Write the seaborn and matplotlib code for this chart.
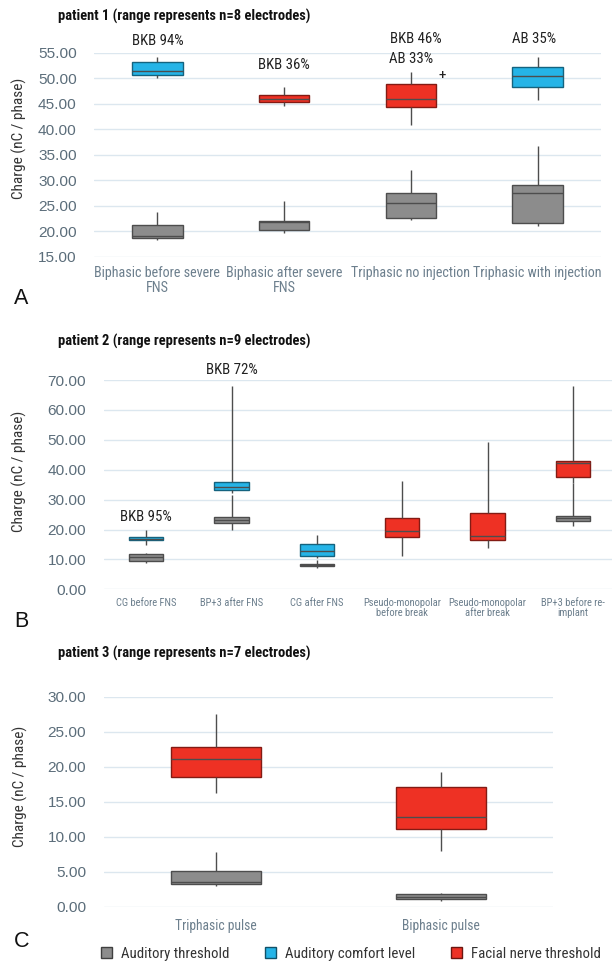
import numpy as np
import pandas as pd
import matplotlib
matplotlib.use("Agg")
import matplotlib.pyplot as plt
import matplotlib.colors as mcolors
from matplotlib.patches import Patch
from matplotlib import font_manager
import seaborn as sns

# ---------------- data (min, q1, median, q3, max) ----------------
SERIES = ["Auditory threshold", "Auditory comfort level", "Facial nerve threshold"]
COLORS = ["#8c8c8c", "#25b4e7", "#ee3124"]

# Panel A
A_cats = ["Biphasic before severe\nFNS", "Biphasic after severe\nFNS",
          "Triphasic no injection", "Triphasic with injection"]
A_threshold = [[18.3, 18.7, 19.1, 21.3, 23.7],
               [19.6, 20.2, 21.8, 22.0, 26.0],
               [22.2, 22.5, 25.5, 27.4, 32.0],
               [21.0, 21.7, 27.4, 29.1, 36.7]]
A_comfort = [[50.0, 50.6, 51.5, 53.2, 54.1],
             None,
             None,
             [45.7, 48.3, 50.4, 52.1, 54.1]]
A_facial = [None,
            [44.5, 45.4, 46.0, 46.7, 48.3],
            [40.8, 44.4, 45.9, 48.8, 51.2],
            None]

# Panel B
B_cats = ["CG before FNS", "BP+3 after FNS", "CG after FNS",
          "Pseudo-monopolar\nbefore break", "Pseudo-monopolar\nafter break",
          "BP+3 before re-\nimplant"]
B_threshold = [[8.7, 9.6, 10.7, 11.8, 12.0],
               [19.8, 22.3, 23.2, 24.1, 31.5],
               [7.0, 7.8, 8.1, 8.5, 9.8],
               None,
               None,
               [21.2, 23.0, 23.7, 24.5, 35.7]]
B_comfort = [[14.8, 16.4, 16.9, 17.4, 19.8],
             [32.1, 33.2, 34.1, 35.8, 68.0],
             [10.4, 11.1, 12.9, 15.2, 18.2],
             None, None, None]
B_facial = [None, None, None,
            [11.1, 17.4, 19.5, 24.0, 36.3],
            [13.7, 16.5, 17.9, 25.4, 49.4],
            [35.7, 37.7, 42.1, 42.8, 68.0]]

# Panel C
C_cats = ["Triphasic pulse", "Biphasic pulse"]
C_threshold = [[2.95, 3.24, 3.57, 5.05, 7.76],
               [0.86, 1.14, 1.43, 1.76, 1.95]]
C_comfort = [None, None]
C_facial = [[16.2, 18.57, 21.1, 22.86, 27.5],
            [8.0, 11.1, 12.76, 17.14, 19.3]]

# ---------------- fonts ----------------
names = {f.name for f in font_manager.fontManager.ttflist}
NARROW = "Liberation Sans"
for cand in ["Liberation Sans Narrow", "Arial Narrow", "Roboto Condensed",
             "Open Sans Condensed", "Noto Sans Condensed", "DejaVu Sans Condensed"]:
    if cand in names:
        NARROW = cand
        break
REG = "Liberation Sans"

sns.set_theme(style="white")
plt.rcParams["font.family"] = [REG, "DejaVu Sans"]

W, H = 612, 965
fig = plt.figure(figsize=(6.12, 9.65), dpi=100)
fig.patch.set_facecolor("white")
renderer = fig.canvas.get_renderer()


def fit_size(s, family, target_px, weight="normal"):
    t = fig.text(0, 0, s, fontsize=10, family=family, fontweight=weight)
    w = t.get_window_extent(renderer).width
    t.remove()
    return 10 * target_px / w


S_NOTE = fit_size("Auditory threshold", NARROW, 107)
S_TITLE = fit_size("patient 1 (range represents n=8 electrodes)", NARROW, 253, "bold")
S_YLAB = fit_size("Charge (nC / phase)", NARROW, 121)
S_TICK = fit_size("55.00", REG, 38.5)
S_CAT = [fit_size("Biphasic before severe", NARROW, 126),
         fit_size("CG before FNS", NARROW, 61),
         fit_size("Triphasic pulse", NARROW, 82)]


def long_df(cats, threshold, comfort, facial):
    rows = []
    for series, vals in zip(SERIES, [threshold, comfort, facial]):
        for c, v in zip(cats, vals):
            if v is None:
                continue
            for x in v:
                rows.append({"cat": c, "series": series, "value": x})
    return pd.DataFrame(rows)


def darker(c, f=0.6):
    r, g, b = mcolors.to_rgb(c)
    return (r * f, g * f, b * f)


def make_ax(x0, x1, ytop, ybot):
    return fig.add_axes([x0 / W, 1 - ybot / H, (x1 - x0) / W, (ybot - ytop) / H])


panels = [
    dict(cats=A_cats, th=A_threshold, co=A_comfort, fa=A_facial, box=(94, 601, 52.7, 256.7),
         ylim=(15, 55), step=5, cpad=7.0, ylab=(-0.132, 0.578)),
    dict(cats=B_cats, th=B_threshold, co=B_comfort, fa=B_facial, box=(103.5, 615.5, 380, 589.3),
         ylim=(0, 70), step=10, cpad=6.0, ylab=(-0.149, 0.562)),
    dict(cats=C_cats, th=C_threshold, co=C_comfort, fa=C_facial, box=(103.5, 553, 696.7, 906.7),
         ylim=(0, 30), step=5, cpad=9.0, ylab=(-0.169, 0.571)),
]

axes = []
for i, p in enumerate(panels):
    ax = make_ax(*p["box"])
    axes.append(ax)
    df = long_df(p["cats"], p["th"], p["co"], p["fa"])
    sns.boxplot(data=df, x="cat", y="value", hue="series", order=p["cats"],
                hue_order=SERIES, palette=dict(zip(SERIES, COLORS)), dodge=False,
                whis=(0, 100), width=0.4, saturation=1, showfliers=False,
                showcaps=False, linecolor="#4d4d4d", linewidth=1.0, legend=False, ax=ax)
    for patch in ax.patches:
        fc = patch.get_facecolor()
        patch.set_edgecolor(darker(fc, 0.55))
        patch.set_linewidth(1.0)
    lo, hi = p["ylim"]
    ax.set_ylim(lo, hi)
    ax.set_xlim(-0.5, len(p["cats"]) - 0.5)
    ticks = np.arange(lo, hi + 0.01, p["step"])
    ax.set_yticks(ticks)
    ax.set_yticklabels([f"{t:.2f}" for t in ticks], fontsize=S_TICK, color="#5b6d7a",
                       family=REG)
    ax.tick_params(axis="y", length=0, pad=12.5)
    ax.tick_params(axis="x", length=0, pad=p["cpad"])
    ax.set_xticks(range(len(p["cats"])))
    ax.set_xticklabels(p["cats"], fontsize=S_CAT[i], color="#6c7f8d",
                       family=NARROW, linespacing=1.05)
    ax.grid(axis="y", color="#dce7ef", linewidth=1.0)
    ax.grid(axis="x", visible=False)
    ax.set_axisbelow(True)
    for s in ax.spines.values():
        s.set_visible(False)
    ax.set_xlabel("")
    ax.set_ylabel("Charge (nC / phase)", fontsize=S_YLAB, family=NARROW, color="#333333")
    ax.yaxis.set_label_coords(*p["ylab"])
    ax.set_facecolor("white")

# annotations
axA, axB, axC = axes
note_kw = dict(ha="center", va="center", fontsize=S_NOTE, family=NARROW,
               color="#222222", clip_on=False)
axA.text(0, 57.3, "BKB 94%", **note_kw)
axA.text(1, 52.6, "BKB 36%", **note_kw)
axA.text(2.04, 57.6, "BKB 46%", **note_kw)
axA.text(2.0, 53.8, "AB 33%", **note_kw)
axA.text(2.25, 50.5, "+", ha="center", va="center", fontsize=9, fontweight="bold",
         color="#222222")
axA.text(2.97, 57.6, "AB 35%", **note_kw)
axB.text(0, 24.3, "BKB 95%", **note_kw)
axB.text(1, 73.4, "BKB 72%", **note_kw)

# titles
title_kw = dict(ha="left", va="center", fontsize=S_TITLE, family=NARROW,
                fontweight="bold", color="#111111")
fig.text(58 / W, 1 - 16 / H, "patient 1 (range represents n=8 electrodes)", **title_kw)
fig.text(58 / W, 1 - 341.7 / H, "patient 2 (range represents n=9 electrodes)", **title_kw)
fig.text(58 / W, 1 - 653 / H, "patient 3 (range represents n=7 electrodes)", **title_kw)

# panel letters
for letter, y in [("A", 298), ("B", 621.7), ("C", 941.7)]:
    fig.text(21.5 / W, 1 - y / H, letter, ha="center", va="center", fontsize=15.5,
             family=REG, color="#111111")

# legend
handles = [Patch(facecolor=c, edgecolor=darker(c, 0.45), linewidth=1.0, label=s)
           for s, c in zip(SERIES, COLORS)]
leg = fig.legend(handles=handles, loc="center", bbox_to_anchor=(351 / W, 1 - 954 / H),
                 ncol=3, frameon=False, handlelength=0.75, handleheight=0.75,
                 handletextpad=0.6, columnspacing=2.4,
                 prop={"family": NARROW, "size": S_NOTE})
for t in leg.get_texts():
    t.set_color("#333333")

fig.savefig("out.png", dpi=100, facecolor="white")
